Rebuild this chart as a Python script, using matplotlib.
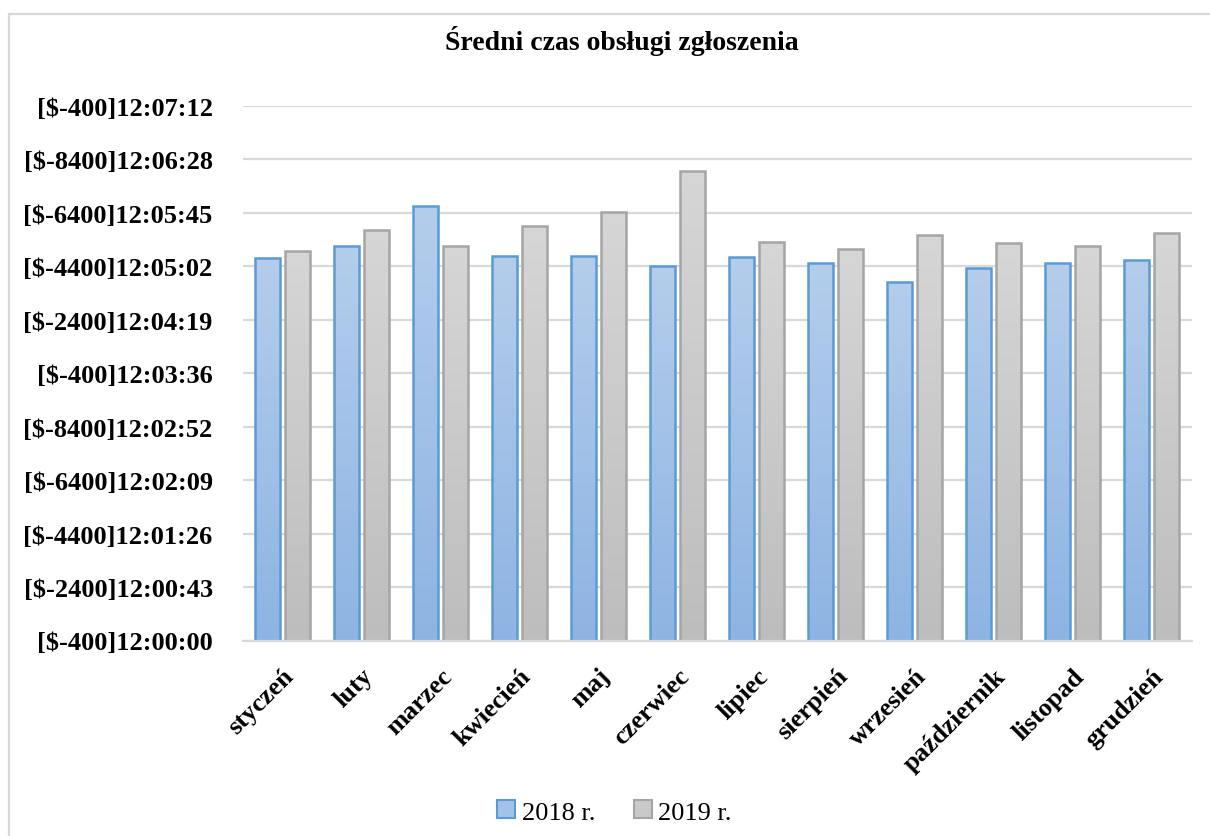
import matplotlib
matplotlib.use('Agg')
import matplotlib.pyplot as plt
import numpy as np
from matplotlib.colors import LinearSegmentedColormap
from matplotlib.patches import Rectangle, Patch
from matplotlib.transforms import ScaledTranslation

# ---------------- data (seconds after 12:00:00) ----------------
months = ["styczeń", "luty", "marzec", "kwiecień", "maj", "czerwiec",
          "lipiec", "sierpień", "wrzesień", "październik", "listopad", "grudzień"]
series_2018 = [308.9, 318.9, 351.0, 311.1, 311.1, 303.0,
               310.0, 304.8, 290.0, 301.1, 304.8, 307.3]
series_2019 = [315.1, 332.1, 318.9, 334.8, 346.1, 379.4,
               322.2, 316.2, 328.1, 321.0, 319.2, 329.1]
series_names = ["2018 r.", "2019 r."]
y_tick_labels = ["[$-400]12:00:00", "[$-2400]12:00:43", "[$-4400]12:01:26",
                 "[$-6400]12:02:09", "[$-8400]12:02:52", "[$-400]12:03:36",
                 "[$-2400]12:04:19", "[$-4400]12:05:02", "[$-6400]12:05:45",
                 "[$-8400]12:06:28", "[$-400]12:07:12"]
y_tick_step = 43.2
title = "Średni czas obsługi zgłoszenia"

# ---------------- styling ----------------
W, H = 1210, 837
fig = plt.figure(figsize=(W / 100, H / 100), dpi=100)
serif = ['Liberation Serif', 'DejaVu Serif']

left_px, right_px, top_px, bot_px = 242.5, 1191.5, 107.0, 641.5
ax = fig.add_axes([left_px / W, 1 - bot_px / H,
                   (right_px - left_px) / W, (bot_px - top_px) / H])

x = np.arange(len(months))
bw = 0.316
off = 0.19

blue_cmap = LinearSegmentedColormap.from_list('b', ['#b4cdeb', '#8db4e3'])
gray_cmap = LinearSegmentedColormap.from_list('g', ['#d6d6d6', '#bdbdbd'])
grad = np.linspace(0, 1, 256).reshape(-1, 1)

bars18 = ax.bar(x - off, series_2018, width=bw, facecolor='none',
                edgecolor='#5b9bd5', linewidth=1.8, zorder=3)
bars19 = ax.bar(x + off, series_2019, width=bw, facecolor='none',
                edgecolor='#a5a5a5', linewidth=1.8, zorder=3)
for bars, cmap in ((bars18, blue_cmap), (bars19, gray_cmap)):
    for r in bars:
        x0, y0 = r.get_x(), r.get_y()
        ax.imshow(grad, extent=(x0, x0 + r.get_width(), y0, y0 + r.get_height()),
                  cmap=cmap, aspect='auto', origin='upper', zorder=2,
                  interpolation='bilinear')

ax.set_xlim(-0.5, len(months) - 0.5)
ticks = [i * y_tick_step for i in range(len(y_tick_labels))]
ax.set_ylim(0, ticks[-1])
ax.set_yticks(ticks)
ax.set_yticklabels(y_tick_labels, fontsize=19, fontweight='bold', family=serif)
ax.set_xticks(x)
ax.set_xticklabels(months, fontsize=19, fontweight='bold', family=serif,
                   rotation=45, ha='right', va='top', rotation_mode='anchor')
for lab in ax.get_xticklabels():
    lab.set_transform(lab.get_transform() + ScaledTranslation(0.5 / 100, 0, fig.dpi_scale_trans))

ax.tick_params(axis='both', length=0)
ax.tick_params(axis='y', pad=21.5)
ax.tick_params(axis='x', pad=17)
ax.set_axisbelow(True)
ax.yaxis.grid(True, color='#d9d9d9', linewidth=1.6)
for s in ('left', 'right', 'top'):
    ax.spines[s].set_visible(False)
ax.spines['bottom'].set_color('#d9d9d9')
ax.spines['bottom'].set_linewidth(1.6)
ax.spines['bottom'].set_zorder(4)

fig.text(621.5 / W, 1 - 50 / H, title, ha='center', va='baseline',
         fontsize=20, fontweight='bold', family=serif)

handles = [Patch(facecolor='#a3c2e8', edgecolor='#5b9bd5', linewidth=1.5),
           Patch(facecolor='#c9c9c9', edgecolor='#a5a5a5', linewidth=1.5)]
fig.legend(handles, series_names, loc='center', bbox_to_anchor=(614.5 / W, 1 - 813 / H),
           ncol=2, frameon=False, prop={'family': serif, 'size': 19},
           handlelength=0.68, handleheight=0.68, handletextpad=0.25,
           columnspacing=1.45, borderpad=0, borderaxespad=0)

border = Rectangle((9 / W, -0.05), 1.1, 1.05 - 14.5 / H, transform=fig.transFigure,
                   facecolor='none', edgecolor='#d9d9d9', linewidth=1.6, clip_on=False)
fig.add_artist(border)

fig.savefig('out.png', dpi=100)
